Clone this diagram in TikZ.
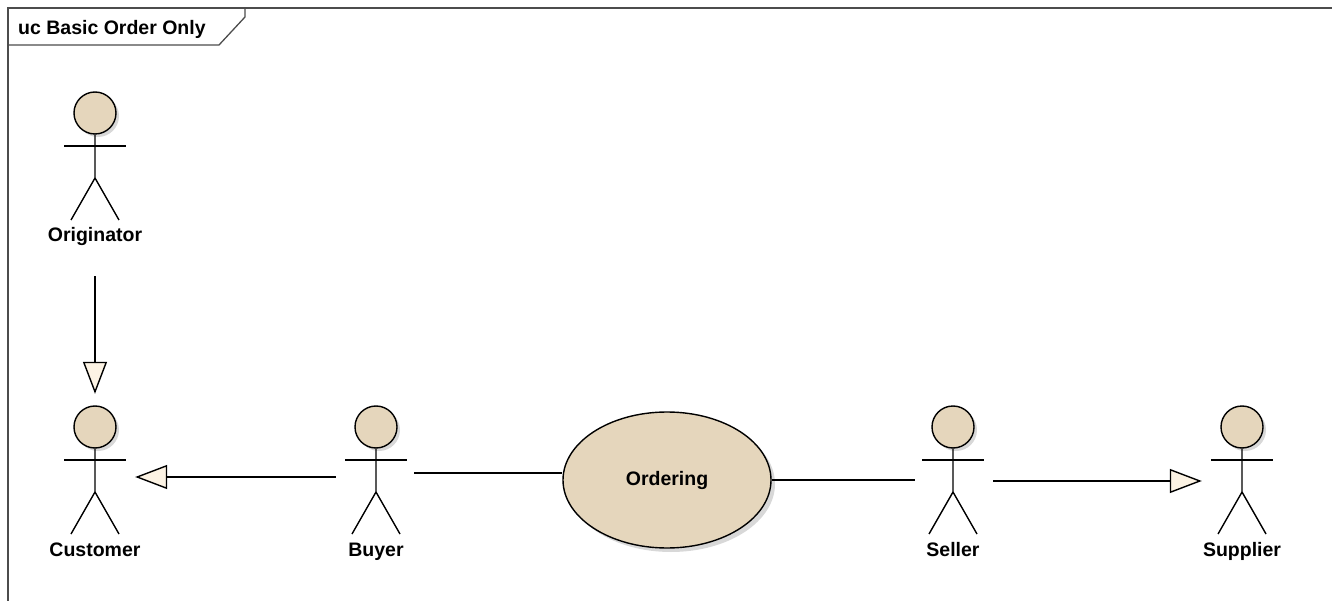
\documentclass[tikz,border=0pt]{standalone}
\usepackage{fontspec}
\setmainfont{Liberation Sans}
\usepackage{xcolor}
\usetikzlibrary{arrows.meta,shapes.geometric,shadows}
\definecolor{actorfill}{RGB}{229,214,188}
\definecolor{tipfill}{RGB}{252,243,228}
\newcommand{\umlfont}{\fontsize{19.5}{23}\selectfont\bfseries}
\tikzset{
	limb/.style={line width=1.4pt},
	head/.style={
			circle, draw, line width=1.4pt, fill=actorfill,
			minimum size=42pt, inner sep=0pt,
			drop shadow={shadow xshift=3pt, shadow yshift=-3pt, fill=black!30}
		},
	actorlabel/.style={anchor=base, inner sep=0pt, font=\umlfont},
	actorbox/.style={minimum width=76pt, minimum height=142pt, inner sep=0pt},
	actor/.pic={
			\node[head] (-head) at (0,0) {};
			\draw[limb] (-31,33) -- (31,33);
			\draw[limb] (-head.south) -- (0,65) -- (-24,107);
			\draw[limb] (0,65) -- (24,107);
			\node[actorlabel] (-label) at (0,129) {#1};
			\node[actorbox] (-box) at (0,50) {};
		},
	usecase/.style={
			ellipse, draw, line width=1.4pt, fill=actorfill,
			minimum width=208pt, minimum height=136pt, font=\umlfont,
			drop shadow={shadow xshift=4pt, shadow yshift=-4pt, fill=black!30}
		},
	general/.style={
			line width=1.4pt, shorten <=2pt, shorten >=2pt,
			-{Triangle[length=32pt, width=24pt, fill=tipfill]}
		},
	assoc/.style={line width=1.4pt}
}

\begin{document}
\begin{tikzpicture}[x=1pt, y=-1pt]
	\useasboundingbox (0,0) rectangle (1332,601);

	% Frame
	\draw[black!70, line width=1.3pt] (8,601) -- (8,8) -- (1332,8);
	\draw[black!70, line width=1.3pt] (8,45) -- (219,45) -- (245,17) -- (245,8);
	\node[anchor=base west, inner sep=0pt, font=\umlfont] (title) at (18,35) {uc Basic Order Only};

	% Actors
	\pic (orig) at (95,113) {actor=Originator};
	\pic (cust) at (95,427) {actor=Customer};
	\pic (buyer) at (376,427) {actor=Buyer};
	\pic (seller) at (953,427) {actor=Seller};
	\pic (supp) at (1242,427) {actor=Supplier};

	% Use case
	\node[usecase] (order) at (667,480) {Ordering};

	% Generalizations
	\draw[general, shorten <=42pt, shorten >=12pt] (orig-box.south) -- (cust-box.north);
	\draw[general] (buyer-box.west) -- (cust-box.east);
	\draw[general] ([yshift=-4pt]seller-box.east) -- ([yshift=-4pt]supp-box.west);

	% Associations
	\draw[assoc] ([yshift=4pt]buyer-box.east) -- ([yshift=4pt]buyer-box.east -| order.west);
	\draw[assoc] (order.east) -- (order.east -| seller-box.west);
\end{tikzpicture}
\end{document}
